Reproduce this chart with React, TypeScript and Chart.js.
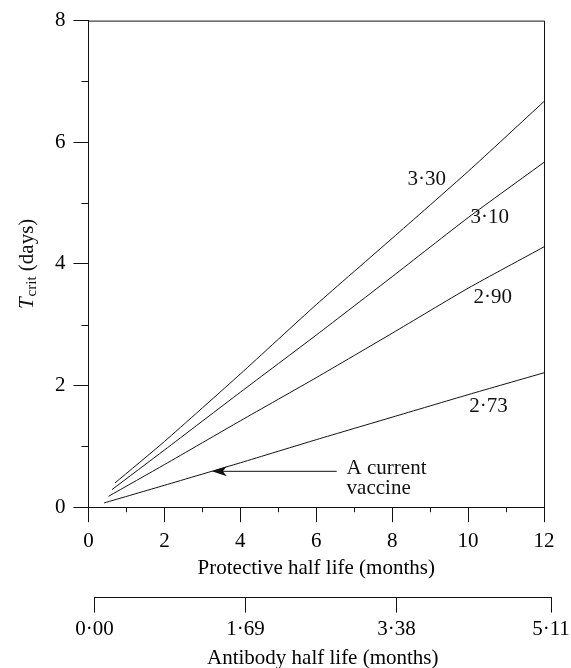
import { useEffect, useRef } from 'react';
import { Chart, registerables } from 'chart.js';

Chart.register(...registerables);

// ---- data ----
const protectiveTicks = [0, 2, 4, 6, 8, 10, 12];
const antibodyTicks = [0, 1.69, 3.38, 5.11];
const tcritTicks = [0, 2, 4, 6, 8];

const seriesNames = ['3·30', '3·10', '2·90', '2·73'];

const months330 = [0.70, 2, 4, 6, 8, 10, 12];
const tcrit330 = [0.40, 1.08, 2.19, 3.33, 4.42, 5.52, 6.67];

const months310 = [0.62, 2, 4, 6, 8, 10, 12];
const tcrit310 = [0.29, 0.94, 1.89, 2.83, 3.79, 4.76, 5.67];

const months290 = [0.53, 2, 4, 6, 8, 10, 12];
const tcrit290 = [0.18, 0.70, 1.42, 2.13, 2.86, 3.60, 4.28];

const months273 = [0.41, 2, 4, 6, 8, 10, 12];
const tcrit273 = [0.07, 0.36, 0.73, 1.11, 1.48, 1.85, 2.21];

const currentVaccine = { months: 3.25, tcrit: 0.59 };

const SERIF = '"Liberation Serif", "Times New Roman", serif';
const INK = '#111';

const toPoints = (xs: number[], ys: number[]) => xs.map((x, i) => ({ x, y: ys[i] }));

const decorPlugin = {
  id: 'decor',
  afterLayout(chart: any) {
    // the antibody axis is drawn slightly offset to the right in the reference
    const s = chart.scales.x2;
    if (s) {
      s.left += 6;
      s.right += 7;
      s.configure();
    }
  },
  afterDraw(chart: any) {
    const { ctx, chartArea } = chart;
    const sx = chart.scales.x;
    const sy = chart.scales.y;
    ctx.save();
    ctx.strokeStyle = INK;
    ctx.fillStyle = INK;
    ctx.lineWidth = 1;

    // frame: top and right
    ctx.beginPath();
    ctx.moveTo(chartArea.left, chartArea.top + 0.5);
    ctx.lineTo(chartArea.right + 0.5, chartArea.top + 0.5);
    ctx.lineTo(chartArea.right + 0.5, chartArea.bottom);
    ctx.stroke();

    // minor ticks
    ctx.beginPath();
    [1, 3, 5, 7].forEach((v) => {
      const py = Math.round(sy.getPixelForValue(v)) + 0.5;
      ctx.moveTo(chartArea.left - 7, py);
      ctx.lineTo(chartArea.left, py);
    });
    [1, 3, 5, 7, 9, 11].forEach((v) => {
      const px = Math.round(sx.getPixelForValue(v)) + 0.5;
      ctx.moveTo(px, chartArea.bottom);
      ctx.lineTo(px, chartArea.bottom + 5);
    });
    ctx.stroke();

    // series labels
    ctx.font = `21px ${SERIF}`;
    ctx.textAlign = 'center';
    ctx.textBaseline = 'middle';
    const labelAt = [
      [8.91, 5.38],
      [10.57, 4.77],
      [10.65, 3.45],
      [10.54, 1.66],
    ];
    seriesNames.forEach((name, i) => {
      ctx.fillText(name, sx.getPixelForValue(labelAt[i][0]), sy.getPixelForValue(labelAt[i][1]));
    });

    // annotation: A current vaccine
    ctx.textAlign = 'left';
    const tx = sx.getPixelForValue(6.80);
    ctx.fillText('A current', tx, sy.getPixelForValue(0.64));
    ctx.fillText('vaccine', tx, sy.getPixelForValue(0.31));

    const tipX = sx.getPixelForValue(currentVaccine.months);
    const tipY = sy.getPixelForValue(currentVaccine.tcrit);
    const tailX = sx.getPixelForValue(6.54);
    ctx.beginPath();
    ctx.moveTo(tipX + 10, tipY);
    ctx.lineTo(tailX, tipY);
    ctx.stroke();
    ctx.beginPath();
    ctx.moveTo(tipX, tipY);
    ctx.lineTo(tipX + 15, tipY - 5);
    ctx.lineTo(tipX + 11, tipY);
    ctx.lineTo(tipX + 15, tipY + 5);
    ctx.closePath();
    ctx.fill();

    // y axis title: T_crit (days)
    const cx = 27;
    const cy = (chartArea.top + chartArea.bottom) / 2;
    ctx.translate(cx, cy);
    ctx.rotate(-Math.PI / 2);
    ctx.textBaseline = 'middle';
    ctx.textAlign = 'left';
    const fT = `italic 21px ${SERIF}`;
    const fSub = `15px ${SERIF}`;
    const fMain = `21px ${SERIF}`;
    ctx.font = fT;
    const wT = ctx.measureText('T').width;
    ctx.font = fSub;
    const wSub = ctx.measureText('crit').width;
    ctx.font = fMain;
    const wRest = ctx.measureText(' (days)').width;
    const total = wT + wSub + wRest + 1;
    let x0 = -total / 2;
    ctx.font = fT;
    ctx.fillText('T', x0, 0);
    x0 += wT + 1;
    ctx.font = fSub;
    ctx.fillText('crit', x0, 5);
    x0 += wSub;
    ctx.font = fMain;
    ctx.fillText(' (days)', x0, 0);

    ctx.restore();
  },
};

export default function App() {
  const ref = useRef<HTMLCanvasElement | null>(null);

  useEffect(() => {
    if (!ref.current) return;
    const font = { family: SERIF, size: 21, lineHeight: 1.2 };
    const lineStyle = {
      borderColor: INK,
      borderWidth: 1,
      pointRadius: 0,
      tension: 0.2,
      fill: false,
    };
    const chart = new Chart(ref.current, {
      type: 'line',
      data: {
        datasets: [
          { label: seriesNames[0], data: toPoints(months330, tcrit330), ...lineStyle },
          { label: seriesNames[1], data: toPoints(months310, tcrit310), ...lineStyle },
          { label: seriesNames[2], data: toPoints(months290, tcrit290), ...lineStyle },
          { label: seriesNames[3], data: toPoints(months273, tcrit273), ...lineStyle },
        ],
      },
      options: {
        animation: false,
        responsive: false,
        maintainAspectRatio: false,
        layout: { padding: { left: 47, right: 27, top: 16, bottom: 0 } },
        plugins: { legend: { display: false }, tooltip: { enabled: false } },
        scales: {
          x: {
            type: 'linear',
            position: 'bottom',
            weight: 1,
            min: 0,
            max: 12,
            afterBuildTicks: (s: any) => {
              s.ticks = protectiveTicks.map((v) => ({ value: v }));
            },
            ticks: { font, color: '#000', padding: 7, maxRotation: 0, autoSkip: false },
            grid: { drawOnChartArea: false, tickLength: 15, color: INK, lineWidth: 1 },
            border: { color: INK, width: 1 },
            title: {
              display: true,
              text: 'Protective half life (months)',
              font,
              color: '#000',
              padding: { top: -6, bottom: 17 },
            },
          },
          x2: {
            type: 'linear',
            position: 'bottom',
            weight: 2,
            min: 0,
            max: 5.11,
            afterBuildTicks: (s: any) => {
              s.ticks = antibodyTicks.map((v) => ({ value: v }));
            },
            ticks: {
              font,
              color: '#000',
              padding: 4,
              maxRotation: 0,
              autoSkip: false,
              callback: (v: any) => Number(v).toFixed(2).replace('.', '·'),
            },
            grid: { drawOnChartArea: false, tickLength: 15, color: INK, lineWidth: 1 },
            border: { color: INK, width: 1 },
            title: {
              display: true,
              text: 'Antibody half life (months)',
              font,
              color: '#000',
              padding: { top: 0, bottom: -3 },
            },
          },
          y: {
            type: 'linear',
            min: 0,
            max: 8,
            afterBuildTicks: (s: any) => {
              s.ticks = tcritTicks.map((v) => ({ value: v }));
            },
            ticks: { font, color: '#000', padding: 8 },
            grid: { drawOnChartArea: false, tickLength: 15, color: INK, lineWidth: 1 },
            border: { color: INK, width: 1 },
          },
        },
      } as any,
      plugins: [decorPlugin],
    });
    return () => chart.destroy();
  }, []);

  return (
    <div style={{ position: 'absolute', left: 0, top: 0, background: '#fff' }}>
      <canvas ref={ref} width={571} height={668} style={{ display: 'block' }} />
    </div>
  );
}
